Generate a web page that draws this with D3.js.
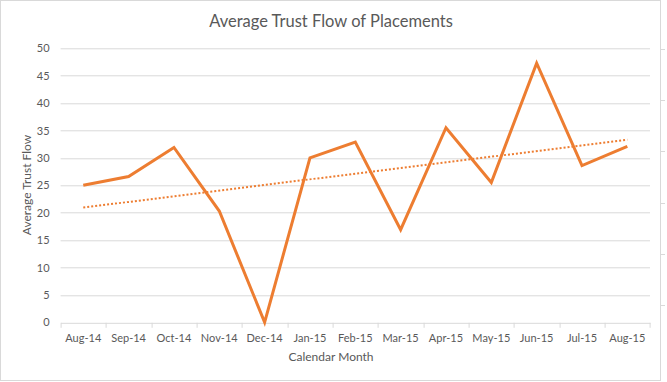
<!DOCTYPE html>
<meta charset="utf-8">
<head>
    <style>
        body { margin: 0; background: #fff; }
        text { font-family: Lato, "Open Sans", sans-serif; fill: #595959; }
    </style>
    <script src="https://d3js.org/d3.v7.min.js"></script>
</head>
<div id="chart"></div>
<script>

// data
var months = ["Aug-14", "Sep-14", "Oct-14", "Nov-14", "Dec-14", "Jan-15", "Feb-15",
              "Mar-15", "Apr-15", "May-15", "Jun-15", "Jul-15", "Aug-15"];
var trustFlow = [25, 26.6, 31.9, 20.3, 0, 30, 32.9, 16.9, 35.5, 25.5, 47.3, 28.6, 32.1];
var yTicks = [0, 5, 10, 15, 20, 25, 30, 35, 40, 45, 50];

var W = 667, H = 382;
var margin = {top: 48.3, right: 17, bottom: 59.7, left: 60.6},
    width = 650 - margin.left,
    height = 322.3 - margin.top;

var svg = d3.select("#chart")
  .append("svg")
    .attr("width", W)
    .attr("height", H);

// chart border
svg.append("rect")
    .attr("x", 0.5).attr("y", 0.5)
    .attr("width", 660).attr("height", 380)
    .attr("fill", "#fff")
    .attr("stroke", "#d9d9d9");

// bits of the neighbouring chart on the right edge
[49, 100, 151, 203, 254, 305].forEach(function(y) {
    svg.append("line")
        .attr("x1", 661).attr("x2", 665)
        .attr("y1", y + 0.5).attr("y2", y + 0.5)
        .attr("stroke", "#d9d9d9");
});

var g = svg.append("g")
    .attr("transform", "translate(" + margin.left + "," + margin.top + ")");

var x = d3.scaleBand().domain(months).range([0, width]);
var y = d3.scaleLinear().domain([0, 50]).range([height, 0]);

// gridlines
g.append("g")
  .selectAll("line")
  .data(yTicks.slice(1))
  .enter().append("line")
    .attr("x1", 0).attr("x2", width)
    .attr("y1", function(d) { return Math.round(y(d)) + 0.5; })
    .attr("y2", function(d) { return Math.round(y(d)) + 0.5; })
    .attr("stroke", "#d9d9d9")
    .attr("stroke-width", 1);

// y axis labels
var yAxis = g.append("g")
    .call(d3.axisLeft(y).tickValues(yTicks).tickSize(0).tickPadding(11));
yAxis.select(".domain").remove();
yAxis.selectAll("text")
    .style("font-size", "11px")
    .style("fill", "#595959")
    .style("font-family", "Lato, sans-serif");

// x axis
var xAxis = g.append("g")
    .attr("transform", "translate(0," + (Math.round(height) + 0.5) + ")")
    .call(d3.axisBottom(x).tickSize(0).tickPadding(11));
xAxis.select(".domain").attr("stroke", "#d9d9d9");
xAxis.selectAll("text")
    .style("font-size", "11px")
    .style("fill", "#595959")
    .style("font-family", "Lato, sans-serif");
// tick marks between categories
xAxis.selectAll(".sep")
    .data(d3.range(months.length + 1))
    .enter().append("line")
    .attr("x1", function(i) { return Math.round(i * x.bandwidth()) + 0.5; })
    .attr("x2", function(i) { return Math.round(i * x.bandwidth()) + 0.5; })
    .attr("y1", 0).attr("y2", 5)
    .attr("stroke", "#d9d9d9");

// linear trendline (least squares, as the spreadsheet does)
var n = trustFlow.length,
    mx = d3.mean(d3.range(n)),
    my = d3.mean(trustFlow),
    slope = d3.sum(trustFlow, function(v, i) { return (i - mx) * (v - my); }) /
            d3.sum(d3.range(n), function(i) { return (i - mx) * (i - mx); }),
    icpt = my - slope * mx;

g.append("line")
    .attr("x1", x(months[0]) + x.bandwidth() / 2)
    .attr("y1", y(icpt))
    .attr("x2", x(months[n - 1]) + x.bandwidth() / 2)
    .attr("y2", y(icpt + slope * (n - 1)))
    .attr("stroke", "#ED7D31")
    .attr("stroke-width", 2)
    .attr("stroke-dasharray", "2,2");

// the line
g.append("path")
    .datum(trustFlow)
    .attr("fill", "none")
    .attr("stroke", "#ED7D31")
    .attr("stroke-width", 3)
    .attr("stroke-linejoin", "miter")
    .attr("d", d3.line()
        .x(function(d, i) { return x(months[i]) + x.bandwidth() / 2; })
        .y(function(d) { return y(d); }));

// title
svg.append("text")
    .attr("x", 331)
    .attr("y", 27)
    .attr("text-anchor", "middle")
    .style("font-size", "16.5px")
    .text("Average Trust Flow of Placements");

// axis titles
svg.append("text")
    .attr("x", 331)
    .attr("y", 361)
    .attr("text-anchor", "middle")
    .style("font-size", "12px")
    .text("Calendar Month");

svg.append("text")
    .attr("transform", "translate(31,185) rotate(-90)")
    .attr("text-anchor", "middle")
    .style("font-size", "12px")
    .text("Average Trust Flow");

</script>
